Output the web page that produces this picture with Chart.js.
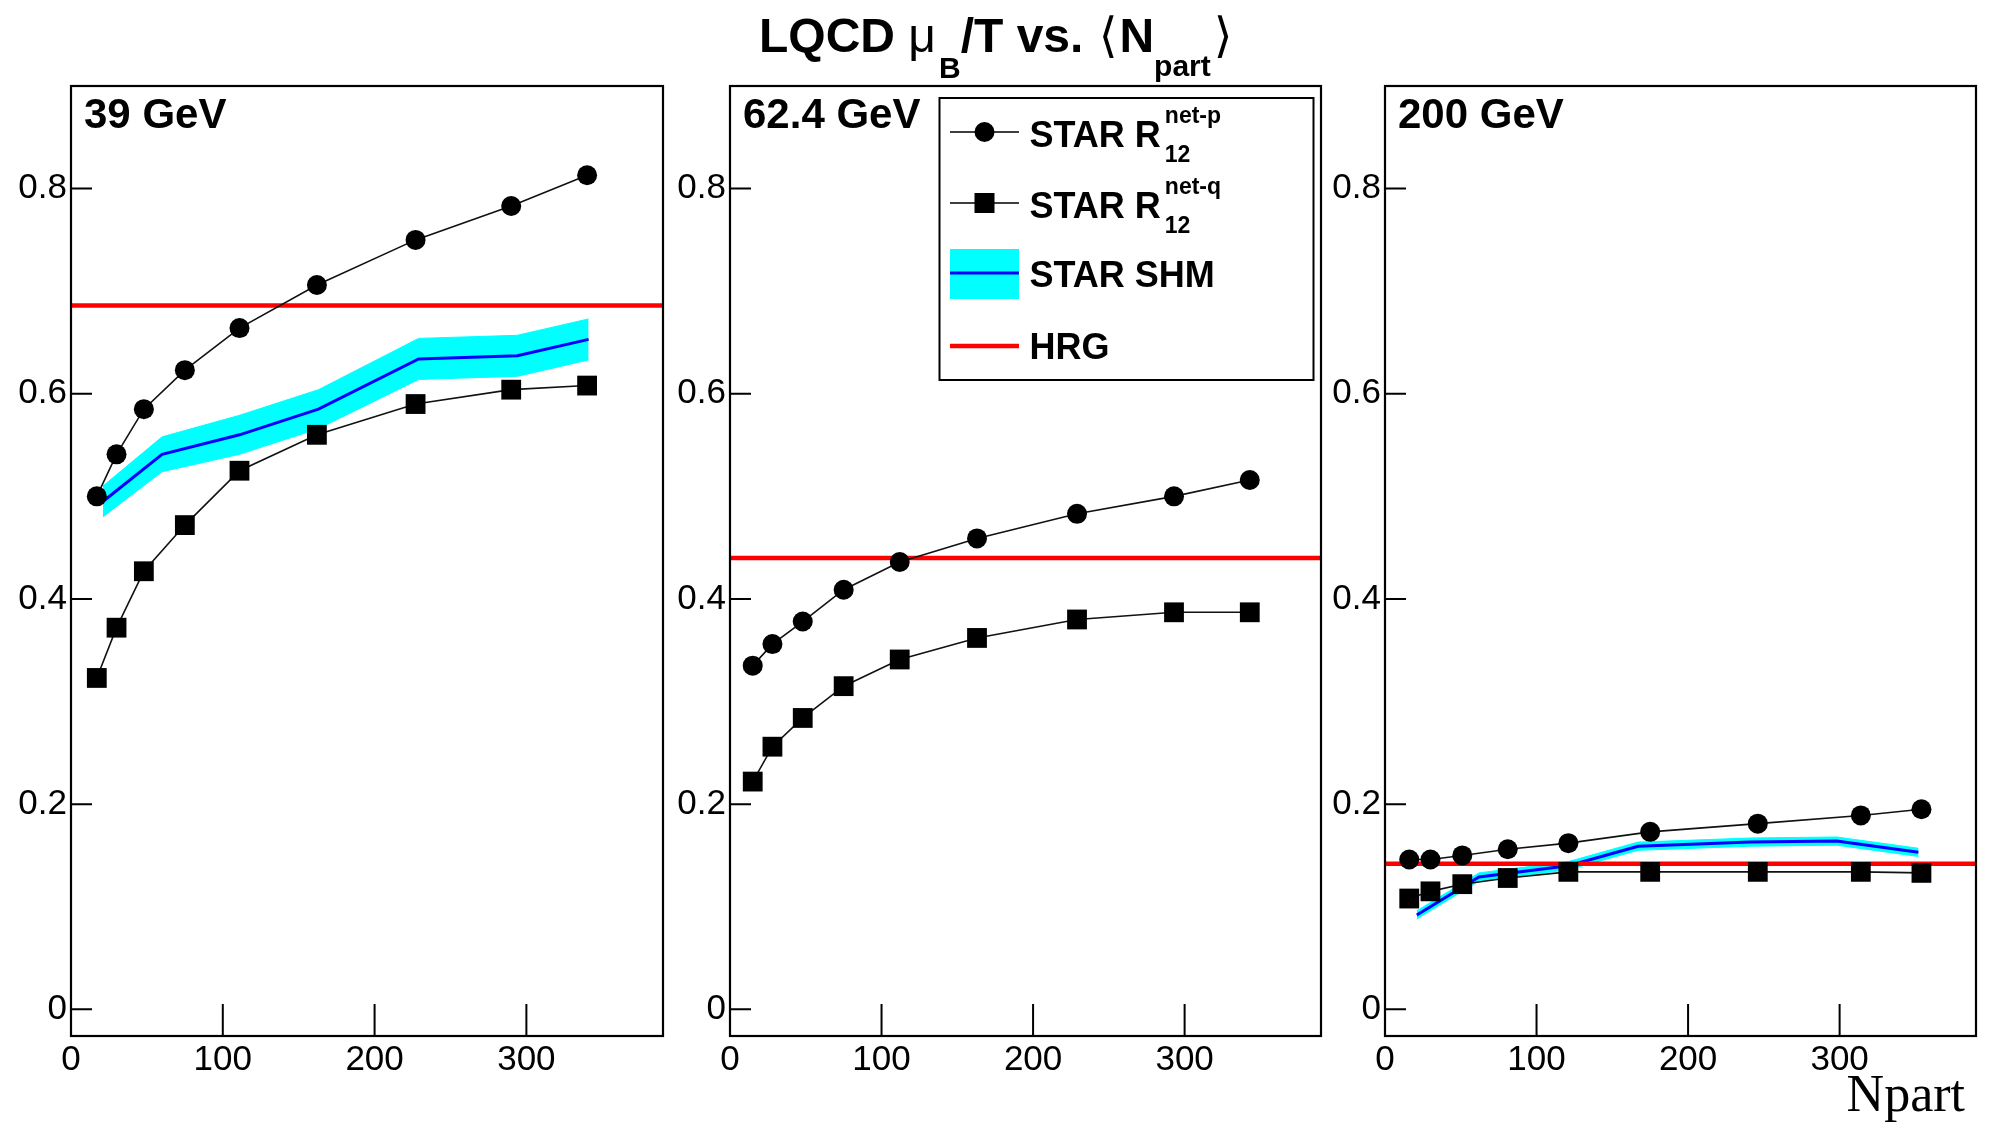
<!DOCTYPE html>
<html>
<head>
<meta charset="utf-8">
<script src="https://cdn.jsdelivr.net/npm/chart.js@4.4.1/dist/chart.umd.min.js"></script>
<style>
  html, body { margin: 0; padding: 0; background: #fff; }
  body { width: 1990px; height: 1123px; position: relative; overflow: hidden; }
  canvas { position: absolute; top: 0; }
</style>
</head>
<body>
<canvas id="c39"></canvas>
<canvas id="c62"></canvas>
<canvas id="c200"></canvas>
<script>
// axis ticks shared by the three panels
const xTickValues = [0, 100, 200, 300];
const yTickValues = [0, 0.2, 0.4, 0.6, 0.8];

// 39 GeV
const npart39 = [17, 30, 48, 75, 111, 162, 227, 290, 340];
const netp39 = [0.500, 0.541, 0.585, 0.623, 0.664, 0.706, 0.750, 0.783, 0.813];
const netq39 = [0.323, 0.372, 0.427, 0.472, 0.525, 0.560, 0.590, 0.604, 0.608];
const shmNpart39 = [21, 60, 111, 163, 229, 294, 341];
const shm39 = [0.495, 0.541, 0.560, 0.585, 0.634, 0.637, 0.653];
const shmErr39 = [0.015, 0.017, 0.019, 0.019, 0.020, 0.020, 0.020];
const hrg39 = 0.686;

// 62.4 GeV
const npart62 = [15, 28, 48, 75, 112, 163, 229, 293, 343];
const netp62 = [0.335, 0.356, 0.378, 0.409, 0.436, 0.459, 0.483, 0.500, 0.516];
const netq62 = [0.222, 0.256, 0.284, 0.315, 0.341, 0.362, 0.380, 0.387, 0.387];
const hrg62 = 0.440;

// 200 GeV
const npart200 = [16, 30, 51, 81, 121, 175, 246, 314, 354];
const netp200 = [0.146, 0.146, 0.150, 0.156, 0.162, 0.173, 0.181, 0.189, 0.195];
const netq200 = [0.108, 0.115, 0.122, 0.128, 0.134, 0.134, 0.134, 0.134, 0.133];
const shmNpart200 = [21, 62, 121, 167, 241, 298, 352];
const shm200 = [0.092, 0.129, 0.140, 0.159, 0.163, 0.164, 0.153];
const shmErr200 = [0.004, 0.004, 0.004, 0.004, 0.004, 0.004, 0.004];
const hrg200 = 0.142;

const X_MAX = 390;
const Y_MIN = -0.026;
const Y_MAX = 0.9;

const SANS = '"Liberation Sans", Arial, Helvetica, sans-serif';
const SERIF = '"Liberation Serif", "Times New Roman", serif';

// page layout (frame edges in page pixels)
const AXIS_W = 70, PAD_R = 12, PAGE_H = 1123;
const FRAME_TOP = 86, FRAME_BOTTOM = 1036, XAXIS_H = 60;

const pts = (xs, ys) => xs.map((x, i) => ({ x, y: ys[i] }));

// ROOT-style frame, inward ticks and energy label
const panelFrame = {
  id: 'panelFrame',
  afterDatasetsDraw(chart, args, o) {
    const { ctx, chartArea: a, scales } = chart;
    ctx.save();
    ctx.strokeStyle = '#000';
    ctx.lineWidth = 2;
    ctx.beginPath();
    yTickValues.forEach(v => {
      const py = scales.y.getPixelForValue(v);
      ctx.moveTo(a.left, py);
      ctx.lineTo(a.left + 21, py);
    });
    xTickValues.forEach(v => {
      const px = scales.x.getPixelForValue(v);
      ctx.moveTo(px, a.bottom);
      ctx.lineTo(px, a.bottom - 32);
    });
    ctx.stroke();
    ctx.lineWidth = 2.2;
    ctx.strokeRect(a.left, a.top, a.right - a.left, a.bottom - a.top);
    ctx.fillStyle = '#000';
    ctx.font = 'bold 42px ' + SANS;
    ctx.textBaseline = 'alphabetic';
    ctx.fillText(o.label, a.left + 13, a.top + 42);
    ctx.restore();
  }
};

function drawRuns(ctx, x, y, runs) {
  for (const r of runs) {
    ctx.font = r.font;
    ctx.fillText(r.text, x, y + (r.dy || 0));
    x += ctx.measureText(r.text).width + (r.gap || 0);
  }
  return x;
}

// title and legend sit on the middle panel's canvas
const titleAndLegend = {
  id: 'titleAndLegend',
  afterDraw(chart, args, o) {
    const ctx = chart.ctx;
    ctx.save();
    ctx.translate(-o.offsetX, 0);
    ctx.fillStyle = '#000';
    ctx.textBaseline = 'alphabetic';

    // title
    const big = 'bold 48px ' + SANS, sub = 'bold 30px ' + SANS;
    drawRuns(ctx, 759, 52, [
      { text: 'LQCD ', font: big },
      { text: 'μ', font: '48px ' + SANS, gap: 3 },
      { text: 'B', font: sub, dy: 26 },
      { text: '/T vs. ', font: big, gap: 2 },
      { text: '⟨', font: '48px "DejaVu Sans"', gap: 2 },
      { text: 'N', font: big },
      { text: 'part', font: sub, dy: 24, gap: 3 },
      { text: '⟩', font: '48px "DejaVu Sans"' }
    ]);

    // legend box
    ctx.fillStyle = '#fff';
    ctx.fillRect(939.5, 98, 374, 282);
    ctx.strokeStyle = '#000';
    ctx.lineWidth = 2;
    ctx.strokeRect(939.5, 98, 374, 282);

    const x0 = 950, x1 = 1019, xm = 984.5, tx = 1029.5;
    // net-p / net-q entries
    ctx.lineWidth = 1.6;
    ctx.beginPath();
    ctx.moveTo(x0, 132); ctx.lineTo(x1, 132);
    ctx.moveTo(x0, 203); ctx.lineTo(x1, 203);
    ctx.stroke();
    ctx.fillStyle = '#000';
    ctx.beginPath();
    ctx.arc(xm, 132, 10, 0, Math.PI * 2);
    ctx.fill();
    ctx.fillRect(xm - 10, 193, 20, 20);

    // SHM entry
    ctx.fillStyle = '#00ffff';
    ctx.fillRect(x0, 249, x1 - x0, 50);
    ctx.strokeStyle = '#0000ff';
    ctx.lineWidth = 3;
    ctx.beginPath(); ctx.moveTo(x0, 273); ctx.lineTo(x1, 273); ctx.stroke();

    // HRG entry
    ctx.strokeStyle = '#ff0000';
    ctx.lineWidth = 4.5;
    ctx.beginPath(); ctx.moveTo(x0, 346); ctx.lineTo(x1, 346); ctx.stroke();

    ctx.fillStyle = '#000';
    const lf = 'bold 36px ' + SANS, sf = 'bold 23px ' + SANS;
    [['net-p', 147], ['net-q', 218]].forEach(([tag, base]) => {
      ctx.font = lf;
      ctx.fillText('STAR R', tx, base);
      const xe = tx + ctx.measureText('STAR R').width + 4;
      ctx.font = sf;
      ctx.fillText(tag, xe, base - 24);
      ctx.fillText('12', xe, base + 15);
    });
    ctx.font = lf;
    ctx.fillText('STAR SHM', tx, 287);
    ctx.fillText('HRG', tx, 359);
    ctx.restore();
  }
};

const npartLabel = {
  id: 'npartLabel',
  afterDraw(chart, args, o) {
    const ctx = chart.ctx;
    ctx.save();
    ctx.translate(-o.offsetX, 0);
    ctx.fillStyle = '#000';
    ctx.font = '52px ' + SERIF;
    ctx.textAlign = 'right';
    ctx.textBaseline = 'alphabetic';
    ctx.fillText('Npart', 1965, 1111);
    ctx.restore();
  }
};

function seriesLine(xs, ys, style, radius) {
  return {
    data: pts(xs, ys),
    showLine: true,
    borderColor: '#111',
    borderWidth: 1.6,
    pointStyle: style,
    pointRadius: radius,
    pointBorderWidth: 0,
    pointBackgroundColor: '#000'
  };
}

function makePanel(p) {
  const cv = document.getElementById(p.id);
  const offsetX = p.left - AXIS_W;
  cv.width = p.right - p.left + AXIS_W + PAD_R;
  cv.height = PAGE_H;
  cv.style.left = offsetX + 'px';

  const datasets = [
    seriesLine(p.npart, p.netp, 'circle', 10),
    seriesLine(p.npart, p.netq, 'rect', 14),
    {
      data: [{ x: 0, y: p.hrg }, { x: X_MAX, y: p.hrg }],
      showLine: true, borderColor: '#ff0000', borderWidth: 4.5, pointRadius: 0
    }
  ];
  if (p.shm) {
    const up = p.shm.map((v, i) => v + p.shmErr[i]);
    const lo = p.shm.map((v, i) => v - p.shmErr[i]);
    datasets.push(
      { data: pts(p.shmNpart, p.shm), showLine: true, borderColor: '#0000ff', borderWidth: 3, pointRadius: 0 },
      { data: pts(p.shmNpart, up), showLine: true, borderColor: '#00ffff', borderWidth: 1,
        backgroundColor: '#00ffff', fill: '+1', pointRadius: 0 },
      { data: pts(p.shmNpart, lo), showLine: true, borderColor: '#00ffff', borderWidth: 1, pointRadius: 0 }
    );
  }

  const tickFont = { family: SANS, size: 35 };
  new Chart(cv, {
    type: 'scatter',
    data: { datasets },
    options: {
      responsive: false,
      animation: false,
      events: [],
      layout: { padding: { top: FRAME_TOP, right: PAD_R, bottom: PAGE_H - FRAME_BOTTOM - XAXIS_H, left: 0 } },
      plugins: {
        legend: { display: false },
        tooltip: { enabled: false },
        panelFrame: { label: p.label },
        titleAndLegend: { offsetX },
        npartLabel: { offsetX }
      },
      scales: {
        x: {
          type: 'linear', min: 0, max: X_MAX,
          afterBuildTicks: ax => { ax.ticks = xTickValues.map(v => ({ value: v })); },
          afterFit: s => { s.height = XAXIS_H; },
          grid: { display: false, drawTicks: false },
          border: { display: false },
          ticks: { font: tickFont, color: '#000', padding: 3, maxRotation: 0, autoSkip: false,
                   callback: v => String(v) }
        },
        y: {
          type: 'linear', min: Y_MIN, max: Y_MAX,
          afterBuildTicks: ax => { ax.ticks = yTickValues.map(v => ({ value: v })); },
          afterFit: s => { s.width = AXIS_W; },
          grid: { display: false, drawTicks: false },
          border: { display: false },
          ticks: { font: tickFont, color: '#000', padding: 4, autoSkip: false,
                   callback: v => (v === 0 ? '0' : v.toFixed(1)) }
        }
      }
    },
    plugins: [panelFrame].concat(p.extra || [])
  });
}

makePanel({ id: 'c39', left: 71, right: 665, label: '39 GeV',
  npart: npart39, netp: netp39, netq: netq39, hrg: hrg39,
  shmNpart: shmNpart39, shm: shm39, shmErr: shmErr39 });
makePanel({ id: 'c62', left: 730, right: 1323, label: '62.4 GeV',
  npart: npart62, netp: netp62, netq: netq62, hrg: hrg62, extra: [titleAndLegend] });
makePanel({ id: 'c200', left: 1385, right: 1978, label: '200 GeV',
  npart: npart200, netp: netp200, netq: netq200, hrg: hrg200,
  shmNpart: shmNpart200, shm: shm200, shmErr: shmErr200, extra: [npartLabel] });
</script>
</body>
</html>
